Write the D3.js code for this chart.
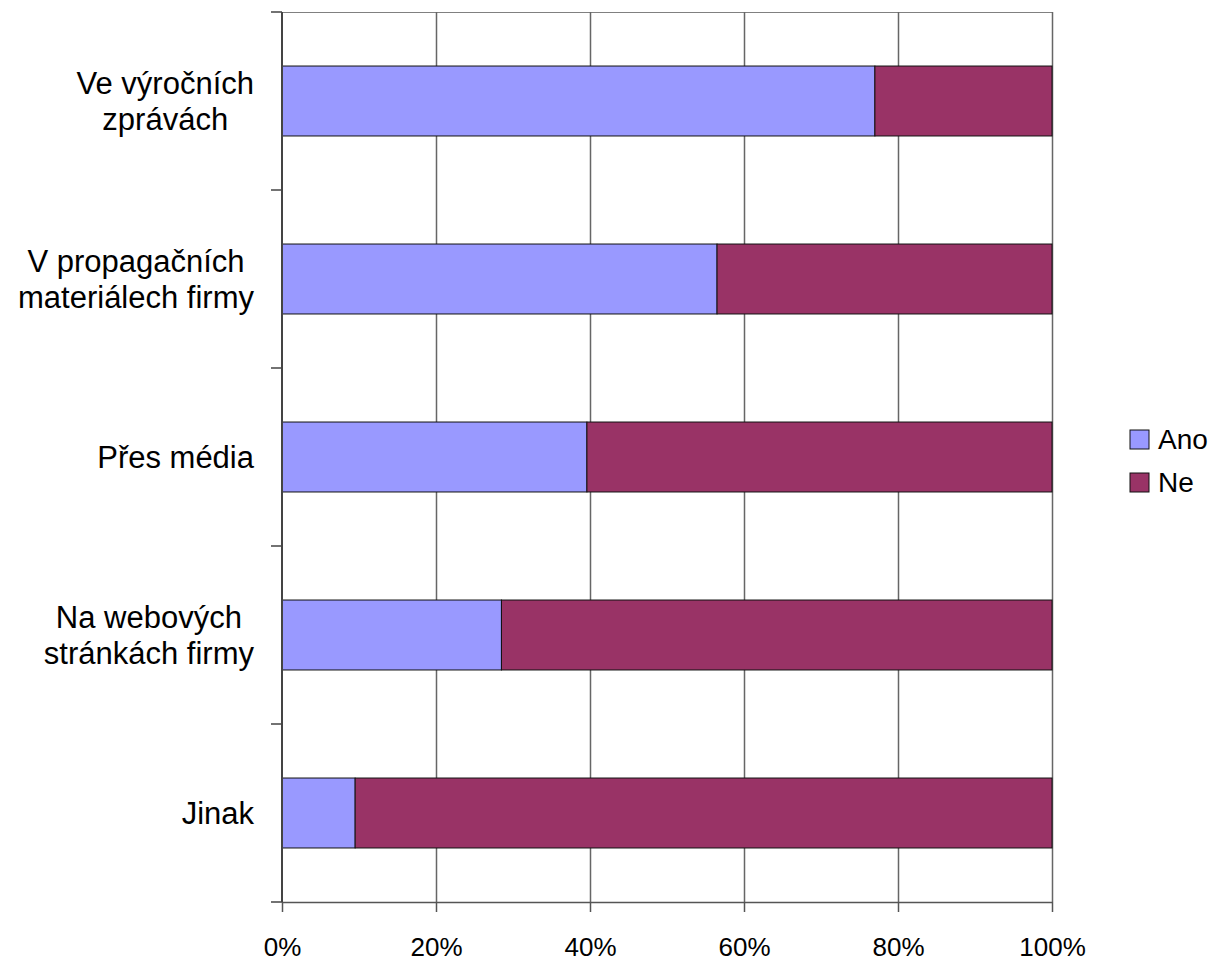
<!DOCTYPE html>
<html>
<head>
<meta charset="utf-8">
<script src="https://cdn.jsdelivr.net/npm/d3@7"></script>
<style>
  html, body { margin: 0; padding: 0; background: #fff; }
  svg { display: block; font-family: "Liberation Sans", Arial, sans-serif; }
</style>
</head>
<body>
<svg id="chart" width="1217" height="961"></svg>
<script>
const categories = [
  ["Ve výročních", "zprávách"],
  ["V propagačních", "materiálech firmy"],
  ["Přes média"],
  ["Na webových", "stránkách firmy"],
  ["Jinak"]
];
const seriesNames = ["Ano", "Ne"];
const ano = [77, 56.5, 39.6, 28.5, 9.5];
const ne = [23, 43.5, 60.4, 71.5, 90.5];
const xTicks = [0, 20, 40, 60, 80, 100];
const colors = ["#9999FF", "#993366"];

const svg = d3.select("#chart");
const plotLeft = 282, plotRight = 1052, plotTop = 12, plotBottom = 902;

const keys = categories.map((c, i) => i);
const x = d3.scaleLinear().domain([0, 100]).range([plotLeft, plotRight]);
const y = d3.scaleBand().domain(keys).range([plotTop, plotBottom]).paddingInner(0.607).paddingOuter(0.3035);
const yEdge = d3.scaleBand().domain(keys).range([plotTop, plotBottom]).padding(0);

const rows = keys.map(i => ({ i, Ano: ano[i], Ne: ne[i] }));
const stacked = d3.stack().keys(seriesNames)(rows);

// plot border (top)
svg.append("line").attr("x1", plotLeft).attr("x2", plotRight).attr("y1", plotTop + 0.5).attr("y2", plotTop + 0.5)
  .attr("stroke", "#808080").attr("stroke-width", 1);

// vertical gridlines
svg.append("g").selectAll("line").data(xTicks.slice(1)).join("line")
  .attr("x1", d => Math.round(x(d)) + 0.5).attr("x2", d => Math.round(x(d)) + 0.5)
  .attr("y1", plotTop).attr("y2", plotBottom)
  .attr("stroke", "#666").attr("stroke-width", 1.5);

// bars
svg.append("g").selectAll("g").data(stacked).join("g")
  .attr("fill", (d, k) => colors[k])
  .selectAll("rect").data(d => d).join("rect")
  .attr("x", d => x(d[0]))
  .attr("width", d => x(d[1]) - x(d[0]))
  .attr("y", d => y(d.data.i))
  .attr("height", y.bandwidth())
  .attr("stroke", "#111")
  .attr("stroke-width", 1);

// x axis
const xAxis = d3.axisBottom(x).tickValues(xTicks).tickFormat(d => d + "%").tickSize(10).tickSizeOuter(0).tickPadding(26);
const gx = svg.append("g").attr("transform", `translate(0,${plotBottom})`).call(xAxis);
gx.select(".domain").attr("stroke", "#555").attr("stroke-width", 1.5);
gx.selectAll(".tick line").attr("stroke", "#555").attr("stroke-width", 1.5);
gx.selectAll(".tick text").attr("font-size", 26).attr("fill", "#000")
  .attr("font-family", "Liberation Sans, Arial, sans-serif");

// y axis line and ticks at band edges
const yTickVals = keys.map(k => yEdge(k)).concat([plotBottom]);
svg.append("line").attr("x1", plotLeft).attr("x2", plotLeft).attr("y1", plotTop).attr("y2", plotBottom)
  .attr("stroke", "#444").attr("stroke-width", 2);
svg.append("g").selectAll("line").data(yTickVals).join("line")
  .attr("x1", plotLeft - 11).attr("x2", plotLeft).attr("y1", d => d).attr("y2", d => d)
  .attr("stroke", "#444").attr("stroke-width", 1.5);

// category labels (centered lines, block right-aligned)
const labelRight = 254, lineH = 36, fs = 31;
const lg = svg.append("g");
categories.forEach((lines, i) => {
  const cy = y(i) + y.bandwidth() / 2;
  const t = lg.append("text").attr("font-size", fs).attr("fill", "#000").attr("text-anchor", "middle");
  const n = lines.length;
  const tspans = lines.map((ln, j) => t.append("tspan")
    .attr("y", cy + 11 + (j - (n - 1) / 2) * lineH).text(ln));
  const maxW = d3.max(tspans, s => s.node().getComputedTextLength());
  tspans.forEach(s => s.attr("x", labelRight - maxW / 2));
});

// legend
const leg = svg.append("g");
seriesNames.forEach((name, k) => {
  const yy = 430 + k * 43;
  leg.append("rect").attr("x", 1130).attr("y", yy).attr("width", 19).attr("height", 19)
    .attr("fill", colors[k]).attr("stroke", "#111").attr("stroke-width", 1);
  leg.append("text").attr("x", 1158).attr("y", yy + 19).attr("font-size", 28).attr("fill", "#000").text(name);
});
</script>
</body>
</html>
